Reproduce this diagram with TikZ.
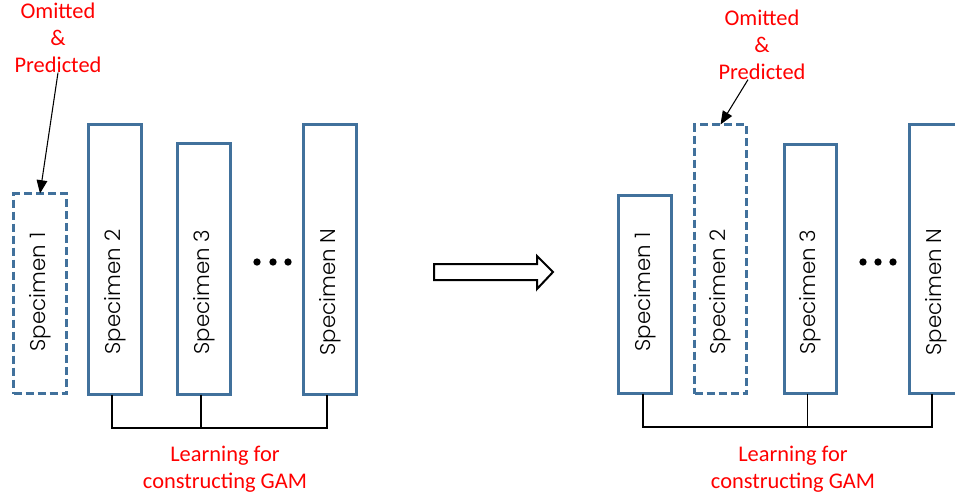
\documentclass[tikz,border=0pt]{standalone}
\usepackage{fontspec}
\setmainfont{Carlito}
\IfFontExistsTF{Poppins Light}{\newfontfamily\gothic{Poppins Light}}{%
  \IfFontExistsTF{Poppins-Light.ttf}{\newfontfamily\gothic{Poppins-Light.ttf}}{\newfontfamily\gothic{Poppins}}}
\usetikzlibrary{fit,arrows.meta}
\definecolor{boxblue}{HTML}{41719C}
\definecolor{lblred}{HTML}{FF0000}
\begin{document}
\begin{tikzpicture}[x=0.75pt,y=-0.75pt,
  spec/.style={draw=boxblue, line width=2.3pt, inner sep=0pt, outer sep=0pt, fill=white},
  omit/.style={spec, dash pattern=on 6pt off 3pt},
  stext/.style={rotate=90, font=\gothic\fontsize{16}{19}\selectfont, inner sep=0pt},
  lbl/.style={text=lblred, align=center, font=\fontsize{16.8}{20.25}\selectfont, inner sep=0pt},
  link/.style={line width=1.1pt, black},
  pointer/.style={-{Triangle[length=10pt,width=8pt]}, line width=0.8pt, black},
  dotn/.style={circle, fill=black, inner sep=0pt, minimum size=5.5pt},
  blockarrow/.style={line width=1.5pt, draw=black, fill=white}
]
\useasboundingbox (0,0) rectangle (955,500);
% ---------- left panel ----------
\node[omit, fit={(13.5,193.5) (66.5,393.5)}] (l1) {};
\node[spec, fit={(88.5,124.5) (141.5,394.5)}] (l2) {};
\node[spec, fit={(177.5,143.5) (230.5,394.5)}] (l3) {};
\node[spec, fit={(303.5,124.5) (356.5,394.5)}] (lN) {};
\node[stext] (l1t) at (40,292) {Specimen 1};
\node[stext] (l2t) at (115,292) {Specimen 2};
\node[stext] (l3t) at (204,292) {Specimen 3};
\node[stext] (lNt) at (330,292) {Specimen N};
\node[dotn] (d1) at (257,262) {};
\node[dotn] (d2) at (273,262) {};
\node[dotn] (d3) at (288,262) {};
\draw[link] ([xshift=-2.25pt]l2.south) -- ++(0,33.5) -| ([xshift=-2.25pt]lN.south);
\draw[link] ([xshift=-2.25pt]l3.south) -- ++(0,33.5);
\node[lbl] (om1) at (58,37.5) {Omitted\\\&\\Predicted};
\draw[pointer] (om1.south) -- (l1.north);
\node[lbl] (gl) at (225,469.5) {Learning for\\constructing GAM};
% ---------- middle arrow ----------
\coordinate (ba) at (434,272);
\draw[blockarrow] (ba) ++(0,-8) -- ++(103,0) -- ++(0,-8) -- ++(16,16) -- ++(-16,17) -- ++(0,-9) -- ++(-103,0) -- cycle;
% ---------- right panel ----------
\node[spec, fit={(618.5,195.5) (671.5,393.5)}] (r1) {};
\node[omit, fit={(694.5,124.5) (746.5,393.5)}] (r2) {};
\node[spec, fit={(784.5,144.5) (836.5,393.5)}] (r3) {};
\node[spec, fit={(909.5,124.5) (962.5,393.5)}] (rN) {};
\node[stext] (r1t) at (645,292) {Specimen 1};
\node[stext] (r2t) at (720.5,292) {Specimen 2};
\node[stext] (r3t) at (810.5,292) {Specimen 3};
\node[stext] (rNt) at (936,292) {Specimen N};
\node[dotn] (d4) at (863,262) {};
\node[dotn] (d5) at (878,262) {};
\node[dotn] (d6) at (893,262) {};
\draw[link] ([xshift=-1.5pt]r1.south) -- ++(0,33.5) -| ([xshift=-3pt]rN.south);
\draw[link] ([xshift=-2.25pt]r3.south) -- ++(0,33.5);
\node[lbl] (om2) at (762,44.5) {Omitted\\\&\\Predicted};
\draw[pointer] ([xshift=-10.5pt]om2.south) -- (r2.north);
\node[lbl] (gr) at (793,469.5) {Learning for\\constructing GAM};
\end{tikzpicture}
\end{document}
